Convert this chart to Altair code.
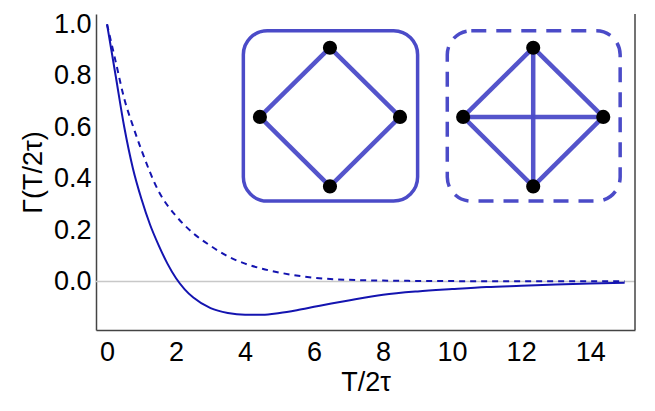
import altair as alt
import pandas as pd

# --- curve data ---
x_solid = [0, 0.25, 0.5, 0.75, 1.0, 1.25, 1.5, 1.75, 2.0, 2.25, 2.5, 3.0, 3.5, 4.0, 4.5, 5.0, 5.5, 6.0, 6.5, 7.0, 8.0, 9.0, 10.0, 11.0, 12.0, 13.0, 14.0, 15.0]
y_solid = [1.0, 0.80, 0.60, 0.44, 0.32, 0.22, 0.14, 0.07, 0.013, -0.03, -0.062, -0.103, -0.122, -0.129, -0.129, -0.122, -0.111, -0.098, -0.085, -0.073, -0.051, -0.038, -0.029, -0.021, -0.016, -0.011, -0.007, -0.004]

x_dashed = [0, 0.25, 0.5, 0.75, 1.0, 1.5, 2.0, 2.5, 3.0, 3.5, 4.0, 4.5, 5.0, 6.0, 7.0, 8.0, 10.0, 12.0, 14.0, 15.0]
y_dashed = [1.0, 0.855, 0.71, 0.605, 0.51, 0.35, 0.255, 0.188, 0.139, 0.098, 0.07, 0.05, 0.035, 0.015, 0.007, 0.004, 0.002, 0.001, 0.001, 0.001]

# --- inset graphs ---
box_x = [3.95, 9.86]
box_x2 = [9.0, 14.87]
box_y = [0.313, 0.313]
box_y2 = [0.975, 0.975]
box_style = ["solid", "dashed"]

node_x = [6.46, 4.43, 8.49, 6.46, 12.35, 10.32, 14.38, 12.35]
node_y = [0.909, 0.64, 0.64, 0.37, 0.909, 0.64, 0.64, 0.37]

edge_x = [6.46, 8.49, 6.46, 4.43, 12.35, 14.38, 12.35, 10.32, 12.35, 10.32]
edge_y = [0.909, 0.64, 0.37, 0.64, 0.909, 0.64, 0.37, 0.64, 0.909, 0.64]
edge_x2 = [8.49, 6.46, 4.43, 6.46, 14.38, 12.35, 10.32, 12.35, 12.35, 14.38]
edge_y2 = [0.64, 0.37, 0.64, 0.909, 0.64, 0.37, 0.64, 0.909, 0.37, 0.64]

XDOM = [-0.32, 15.3]
YDOM = [-0.188, 1.04]

solid_df = pd.DataFrame({"x": x_solid, "y": y_solid})
dashed_df = pd.DataFrame({"x": x_dashed, "y": y_dashed})
box_df = pd.DataFrame({"x": box_x, "x2": box_x2, "y": box_y, "y2": box_y2, "s": box_style})
node_df = pd.DataFrame({"x": node_x, "y": node_y})
edge_df = pd.DataFrame({"x": edge_x, "y": edge_y, "x2": edge_x2, "y2": edge_y2})

FONT = "Liberation Sans"

xs = alt.Scale(domain=XDOM, nice=False, zero=False)
ys = alt.Scale(domain=YDOM, nice=False, zero=False)

x_enc = alt.X("x:Q", scale=xs, axis=alt.Axis(
    title="T/2τ", values=[0, 2, 4, 6, 8, 10, 12, 14], format="d",
    grid=False, ticks=False, labelPadding=9, titlePadding=4,
    domainColor="#444444", domainWidth=1.5,
    labelFontSize=27, titleFontSize=27, labelFont=FONT, titleFont=FONT,
    labelColor="black", titleColor="black", titleFontWeight="normal"))
y_enc = alt.Y("y:Q", scale=ys, axis=alt.Axis(
    title="Γ(T/2τ)", values=[0, 0.2, 0.4, 0.6, 0.8, 1.0], format=".1f",
    grid=False, ticks=False, labelPadding=5, titlePadding=6,
    domainColor="#444444", domainWidth=1.5,
    labelFontSize=27, titleFontSize=27, labelFont=FONT, titleFont=FONT,
    labelColor="black", titleColor="black", titleFontWeight="normal"))

zero = alt.Chart(pd.DataFrame({"y": [0.0]})).mark_rule(color="#c8c8c8", strokeWidth=1.5).encode(
    y=alt.Y("y:Q", scale=ys))
right = alt.Chart(pd.DataFrame({"x": [XDOM[1]]})).mark_rule(color="#444444", strokeWidth=1.5).encode(
    x=alt.X("x:Q", scale=xs))

dashed = alt.Chart(dashed_df).mark_line(color="#1414b0", strokeWidth=2, strokeDash=[6, 5], interpolate="monotone").encode(
    x=x_enc, y=y_enc)
solid = alt.Chart(solid_df).mark_line(color="#1414b0", strokeWidth=2, interpolate="monotone").encode(
    x=alt.X("x:Q", scale=xs), y=alt.Y("y:Q", scale=ys))

box1 = alt.Chart(box_df[box_df.s == "solid"]).mark_rect(
    fill=None, filled=False, stroke="#4b4bc8", strokeWidth=3.5, cornerRadius=24).encode(
    x=alt.X("x:Q", scale=xs), x2="x2:Q", y=alt.Y("y:Q", scale=ys), y2="y2:Q")
box2 = alt.Chart(box_df[box_df.s == "dashed"]).mark_rect(
    fill=None, filled=False, stroke="#4b4bc8", strokeWidth=3.5, cornerRadius=24, strokeDash=[15, 10]).encode(
    x=alt.X("x:Q", scale=xs), x2="x2:Q", y=alt.Y("y:Q", scale=ys), y2="y2:Q")

edges = alt.Chart(edge_df).mark_rule(color="#4b4bc8", strokeWidth=4.5, opacity=0.95).encode(
    x=alt.X("x:Q", scale=xs), y=alt.Y("y:Q", scale=ys), x2="x2:Q", y2="y2:Q")
nodes = alt.Chart(node_df).mark_circle(color="black", opacity=1, size=200).encode(
    x=alt.X("x:Q", scale=xs), y=alt.Y("y:Q", scale=ys))

chart = alt.layer(zero, right, dashed, solid, box1, box2, edges, nodes).properties(
    width=539, height=316,
    autosize=alt.AutoSizeParams(type="none"),
    padding={"left": 88, "top": 6, "right": 12, "bottom": 73},
).configure_view(stroke=None)

chart.save("out.html", embed_options={"renderer": "svg", "actions": False})
